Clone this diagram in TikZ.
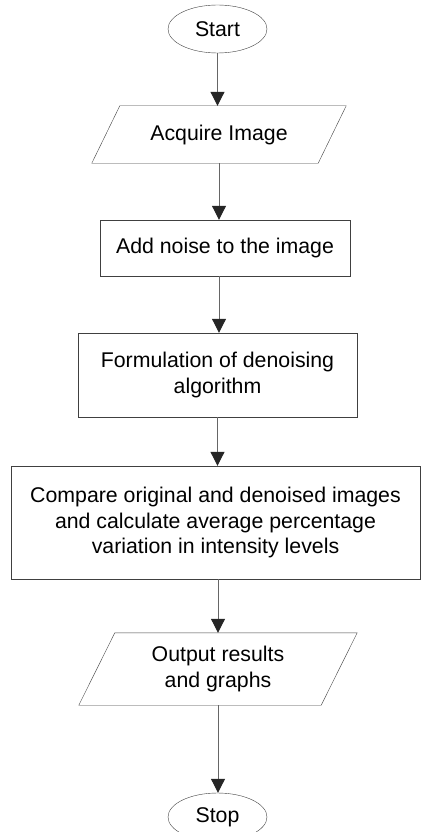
\documentclass[tikz,border=0pt]{standalone}
\usepackage{fontspec}
\setmainfont{Liberation Sans}
\usetikzlibrary{shapes.geometric,arrows.meta}

\begin{document}
\begin{tikzpicture}[x=1pt, y=-1pt,
         every node/.style={font=\fontsize{21.3}{25.5}\selectfont, align=center, inner sep=0pt},
         term/.style={draw=black!75, ellipse, minimum width=99pt, minimum height=48pt},
         proc/.style={draw=black!75, rectangle},
         edge/.style={draw=black!75},
         flow/.style={draw=black!60, line width=1pt, -{Triangle[length=14pt, width=14pt, color=black!85]}}]
         \useasboundingbox (0, 0) rectangle (421, 832);
         \node [term] (St) at (217.5, 29) {Start};
         \node [minimum width=226pt, minimum height=57pt] (AI) at (219, 134.5) {Acquire Image};
         \node [proc, minimum width=250pt, minimum height=56pt] (AN) at (225, 248) {Add noise to the image};
         \node [proc, minimum width=279pt, minimum height=84pt] (FA) at (217.5, 375) {Formulation of denoising\\algorithm};
         \node [proc, minimum width=409pt, minimum height=113pt] (CO) at (215.5, 522.5) {Compare original and denoised images\\and calculate average percentage\\variation in intensity levels};
         \node [minimum width=242pt, minimum height=72pt] (OR) at (218, 669) {Output results\\and graphs};
         \node [term] (Sp) at (217.5, 817) {Stop};
         \draw [edge] ([xshift=14pt]AI.north west) -- ([xshift=14pt]AI.north east) -- ([xshift=-14pt]AI.south east) -- ([xshift=-14pt]AI.south west) -- cycle;
         \draw [edge] ([xshift=18pt]OR.north west) -- ([xshift=18pt]OR.north east) -- ([xshift=-18pt]OR.south east) -- ([xshift=-18pt]OR.south west) -- cycle;
         \draw [flow] (St.south) -- (St.south |- AI.north);
         \draw [flow] (AI.south) -- (AI.south |- AN.north);
         \draw [flow] (AI.south |- AN.south) -- (AI.south |- FA.north);
         \draw [flow] (FA.south) -- (FA.south |- CO.north);
         \draw [flow] (OR.north |- CO.south) -- (OR.north);
         \draw [flow] (OR.south) -- (OR.south |- Sp.north);
\end{tikzpicture}
\end{document}
